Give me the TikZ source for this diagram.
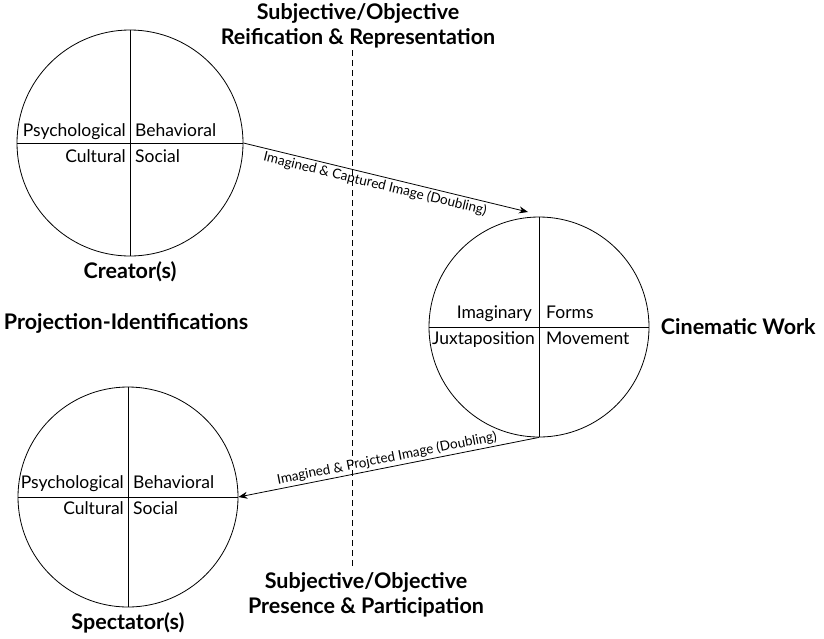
\documentclass[tikz,border=0pt]{standalone}
\usepackage{fontspec}
\setmainfont{Lato}
\usetikzlibrary{arrows.meta,positioning,calc}
\tikzset{
	wheel/.style={draw,circle,thick,inner sep=0pt},
	quad/.style={font=\fontsize{17.5}{18}\selectfont,inner sep=1pt},
	heading/.style={font=\bfseries\fontsize{21.5}{25}\selectfont,align=center},
	flow/.style={thick,-{Stealth[length=9pt,width=7pt]}},
	flowlabel/.style={font=\fontsize{13.5}{14}\selectfont,inner sep=2pt,sloped}
}
\begin{document}
\begin{tikzpicture}[x=1pt,y=-1pt]
  \useasboundingbox (0,0) rectangle (824,638);
  % three wheels
  \node[wheel,minimum size=226] (creator) at (130,143) {};
  \node[wheel,minimum size=220] (work) at (539,327) {};
  \node[wheel,minimum size=220] (spectator) at (128,497) {};
  \foreach \w in {creator,work,spectator}{
    \draw[thick] (\w.north) -- (\w.south);
    \draw[thick] (\w.west) -- (\w.east);
  }
  % quadrant words
  \node[quad,anchor=base east] at ($(creator)+(-3,-7)$) {Psychological};
  \node[quad,anchor=base west] at ($(creator)+(4,-7)$) {Behavioral};
  \node[quad,anchor=base east] at ($(creator)+(-3,19)$) {Cultural};
  \node[quad,anchor=base west] at ($(creator)+(4,19)$) {Social};
  \node[quad,anchor=base east] at ($(spectator)+(-3,-9)$) {Psychological};
  \node[quad,anchor=base west] at ($(spectator)+(4,-9)$) {Behavioral};
  \node[quad,anchor=base east] at ($(spectator)+(-3,17)$) {Cultural};
  \node[quad,anchor=base west] at ($(spectator)+(4,17)$) {Social};
  \node[quad,anchor=base east] at ($(work)+(-6,-9)$) {Imaginary};
  \node[quad,anchor=base west] at ($(work)+(6,-9)$) {Forms};
  \node[quad,anchor=base east] at ($(work)+(-3,17)$) {Juxtaposition};
  \node[quad,anchor=base west] at ($(work)+(6,17)$) {Movement};
  % headings
  \node[heading] (top) at (358,26) {Subjective/Objective\\Reification \& Representation};
  \node[heading] (bottom) at (366,595) {Subjective/Objective\\Presence \& Participation};
  \node[heading,below=2pt of creator] {Creator(s)};
  \node[heading,below=2pt of spectator] {Spectator(s)};
  \node[heading] at (126,323) {Projection-Identifications};
  \node[heading,right=8pt of work] {Cinematic Work};
  % divide
  \coordinate (dtop) at (352,50);
  \coordinate (dbot) at (352,566);
  \draw[thick,dashed,dash pattern=on 6pt off 4pt] (dtop) -- (dbot);
  % doubling arrows
  \coordinate (wtop) at (528,212);
  \draw[flow] (creator.east) -- node[flowlabel,below,pos=.47] {Imagined \& Captured Image (Doubling)} (wtop);
  \draw[flow] (work.south) -- node[flowlabel,above,pos=.5] {Imagined \& Projcted Image (Doubling)} (spectator.east);
\end{tikzpicture}
\end{document}
